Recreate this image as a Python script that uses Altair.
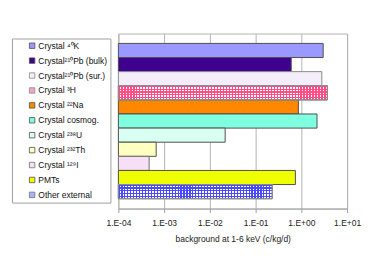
import altair as alt
import pandas as pd

categories = [
    "Crystal ⁴⁰K",
    "Crystal²¹⁰Pb (bulk)",
    "Crystal²¹⁰Pb (sur.)",
    "Crystal ³H",
    "Crystal ²²Na",
    "Crystal cosmog.",
    "Crystal ²³⁸U",
    "Crystal ²³²Th",
    "Crystal ¹²⁹I",
    "PMTs",
    "Other external",
]
values = [3.0, 0.6, 2.8, 3.7, 0.86, 2.2, 0.0216, 6.7e-4, 4.7e-4, 0.74, 0.23]
colors = ["#9999ff", "#3f0090", "#f3eefa", "#f7a6c2", "#ff8800", "#7fffdf",
          "#d8fff2", "#ffffc0", "#f7e0f5", "#f0ff00", "#aab4fb"]
strokes = ["#505050", "#505050", "#8a8a8a", "#8a8a8a", "#505050", "#505050",
           "#505050", "#505050", "#707070", "#505050", "#707070"]
x_ticks = [1e-4, 1e-3, 1e-2, 1e-1, 1e0, 1e1]

# grid-pattern styling: (category, line colour, vertical stripe count, horizontal stripe count)
patterns = [
    ("Crystal ³H", "#ff4d88", 70, 5),
    ("Other external", "#4a4aff", 52, 5),
]

df = pd.DataFrame({"cat": categories, "val": values, "base": [1e-4] * len(values)})


def stripes(n, line, bg, vertical):
    stops = []
    for i in range(n):
        a = i / n
        b = (i + 0.4) / n
        c = (i + 1) / n
        stops += [{"offset": a, "color": line}, {"offset": b, "color": line},
                  {"offset": b, "color": bg}, {"offset": c, "color": bg}]
    g = {"gradient": "linear", "stops": stops}
    if vertical:
        g.update({"x1": 0, "x2": 1, "y1": 0, "y2": 0})
    else:
        g.update({"x1": 0, "x2": 0, "y1": 0, "y2": 1})
    return g


exp = "round(log(datum.value)/LN10)"
label_expr = ("'1.E' + (" + exp + " < 0 ? '-' : '+') + (abs(" + exp + ") < 10 ? '0' : '') + abs(" + exp + ")")

y_enc = alt.Y("cat:N", sort=categories, axis=None,
              scale=alt.Scale(paddingInner=0, paddingOuter=0.7))
x_enc = alt.X("val:Q",
              scale=alt.Scale(type="log", domain=[1e-4, 10]),
              axis=alt.Axis(values=x_ticks, labelExpr=label_expr, labelFlush=False,
                            labelOverlap=False,
                            title="background at 1-6 keV (c/kg/d)",
                            grid=True, gridColor="#b4b4b4", gridWidth=1,
                            domainColor="#a0a0a0", tickColor="#a0a0a0", tickSize=4,
                            labelFont="Liberation Sans", labelFontSize=8.5, labelColor="#222",
                            labelPadding=6, titleFont="Liberation Sans", titleFontSize=8.5,
                            titleFontWeight="normal", titleColor="#222", titlePadding=8))

base = alt.Chart(df).mark_bar(strokeWidth=1, stroke="#505050").encode(
    y=y_enc,
    x=x_enc,
    x2="base:Q",
    fill=alt.Fill("cat:N", sort=categories,
                  scale=alt.Scale(domain=categories, range=colors),
                  legend=alt.Legend(title=None, orient="none", legendX=-107, legendY=5,
                                    symbolType="square", symbolSize=30,
                                    symbolStrokeColor="#404040", symbolStrokeWidth=0.8,
                                    labelFont="Liberation Sans", labelFontSize=8.5,
                                    labelColor="#111", labelOffset=2,
                                    padding=3, rowPadding=5.0, symbolOffset=13,
                                    strokeColor="#a0a0a0", fillColor="white")),
    stroke=alt.Stroke("cat:N", sort=categories,
                      scale=alt.Scale(domain=categories, range=strokes), legend=None),
)

layers = [base]
for cat, line, nv, nh in patterns:
    sub = alt.Chart(df).transform_filter(alt.datum.cat == cat)
    layers.append(sub.mark_bar(strokeWidth=1, stroke="#8a8a8a",
                               fill=stripes(nv, line, "#ffffff", True)).encode(
        y=alt.Y("cat:N", sort=categories), x="val:Q", x2="base:Q"))
    layers.append(sub.mark_bar(strokeWidth=1, stroke="#8a8a8a",
                               fill=stripes(nh, line, "rgba(255,255,255,0)", False)).encode(
        y=alt.Y("cat:N", sort=categories), x="val:Q", x2="base:Q"))

chart = alt.layer(*layers).properties(
    width=230, height=176,
    padding={"left": 3, "top": 25, "right": 5, "bottom": 5},
).configure_view(stroke="#b4b4b4", strokeWidth=1)

chart.save("out.html", embed_options={"renderer": "svg", "actions": False})
